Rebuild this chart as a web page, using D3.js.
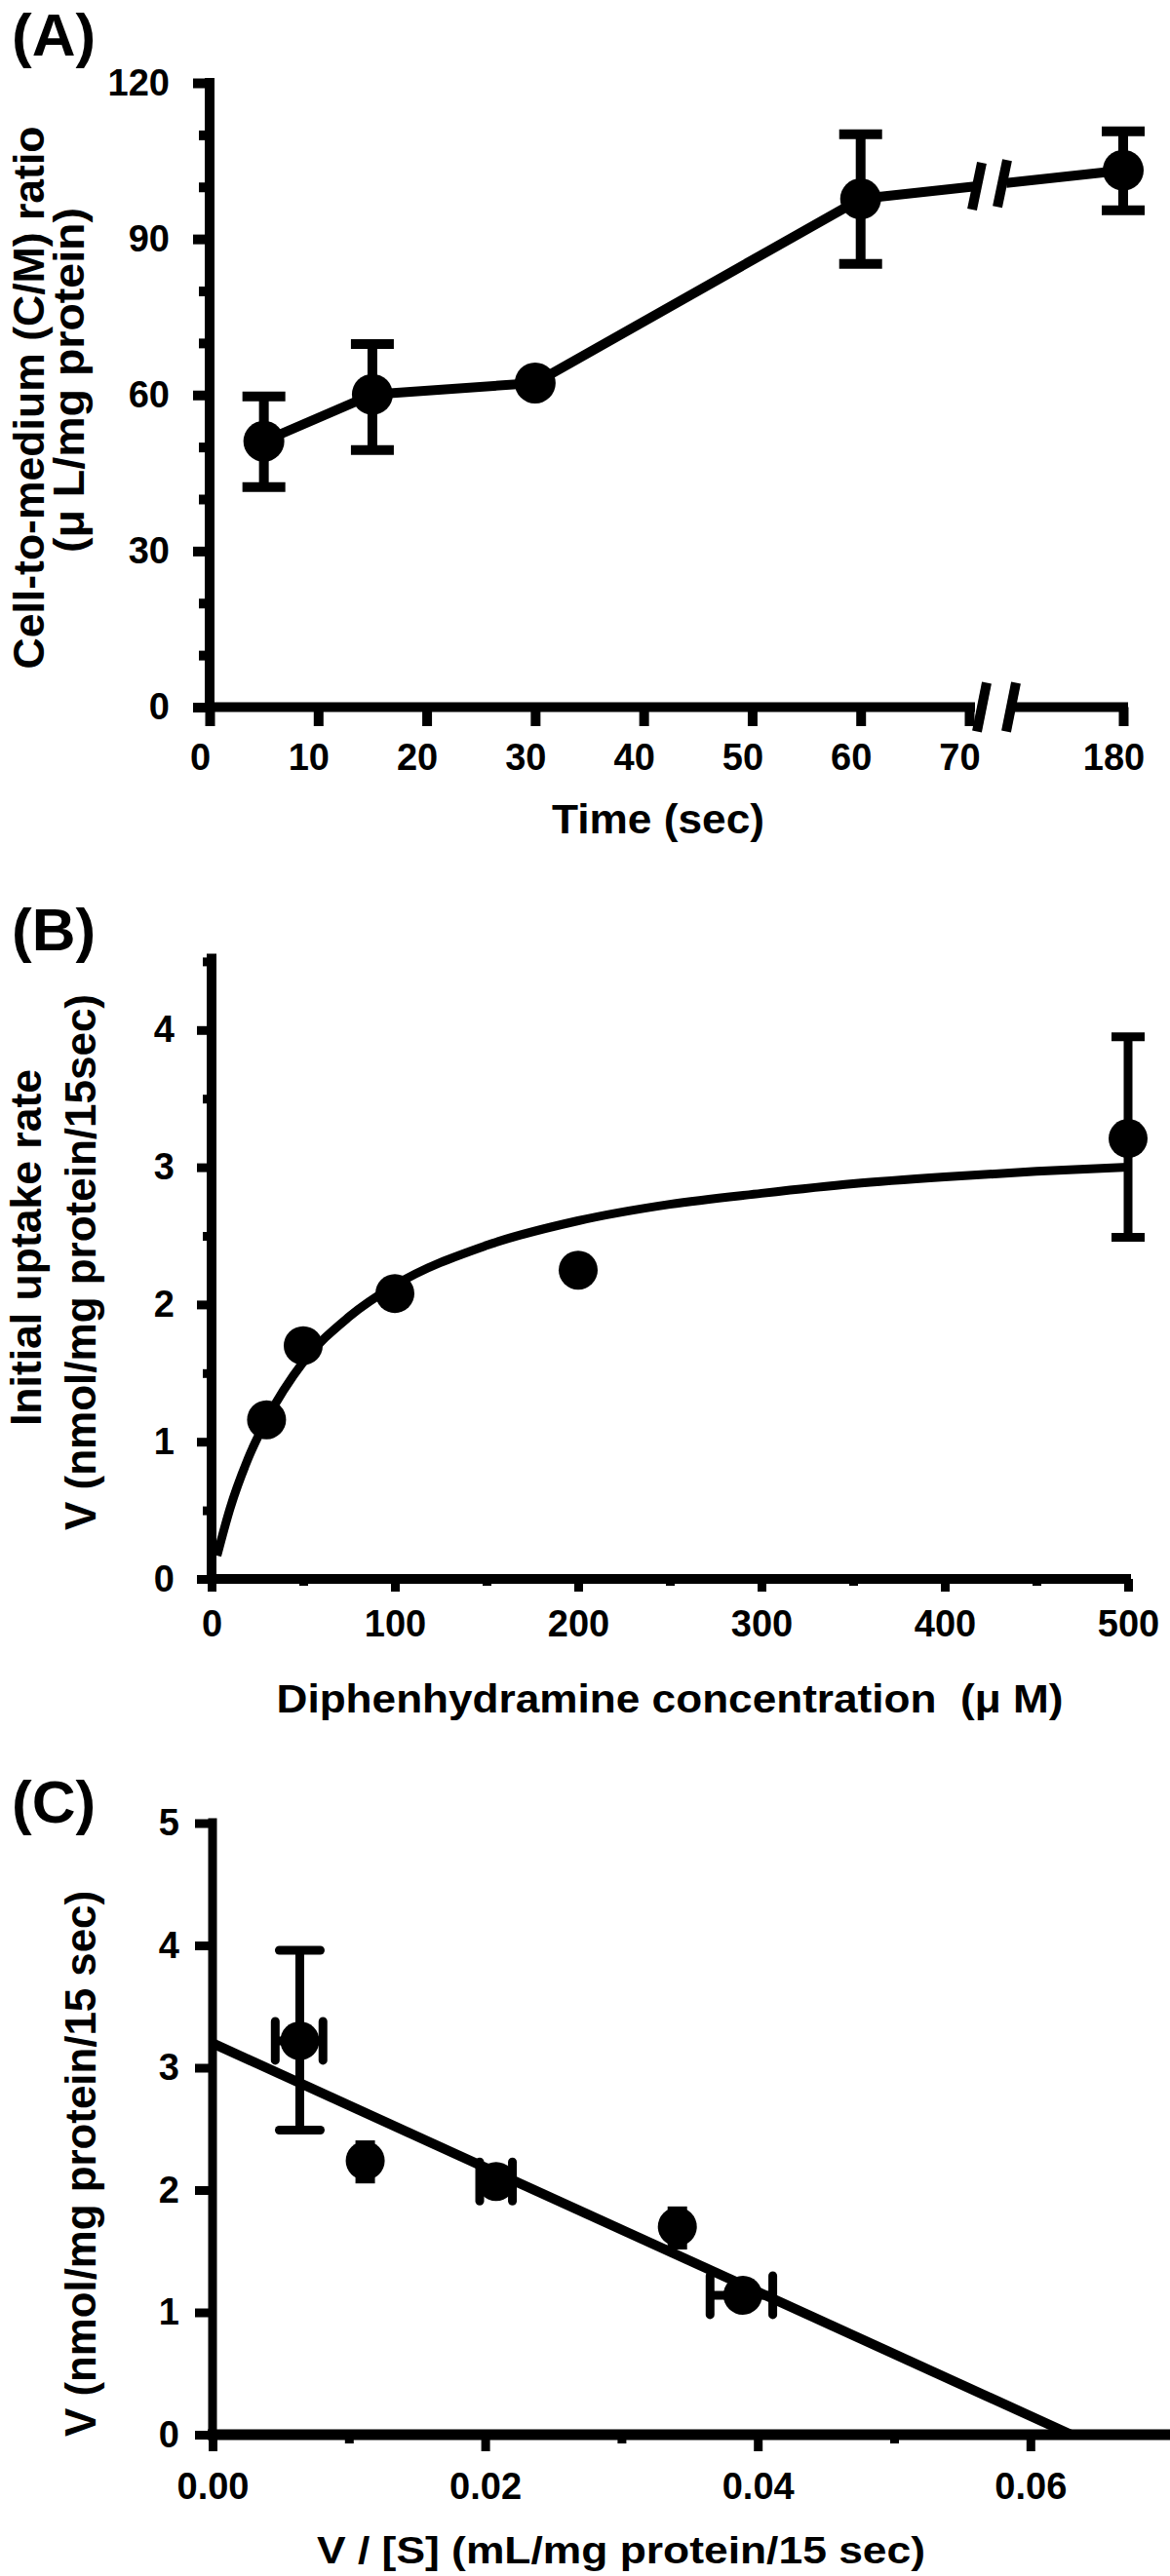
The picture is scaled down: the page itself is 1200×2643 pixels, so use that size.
<!DOCTYPE html>
<html><head><meta charset="utf-8">
<script src="https://cdn.jsdelivr.net/npm/d3@7"></script>
<style>
html,body{margin:0;padding:0;background:#fff;}
svg{display:block;}
text{white-space:pre;}
</style></head><body>
<svg id="fig" width="1200" height="2643"></svg>
<script>
// ---------- Panel A data ----------
const timeSec = [5, 15, 30, 60, 180];
const cmRatio = [51.1, 60.1, 62.3, 97.7, 103.2];
const cmErrLow = [42.3, 49.4, null, 85.2, 95.5];
const cmErrHigh = [59.7, 69.8, null, 110.1, 110.7];
const timeTicks = [0, 10, 20, 30, 40, 50, 60, 70, 180];
const ratioTicks = [0, 30, 60, 90, 120];
const ratioMinorTicks = [10, 20, 40, 50, 70, 80, 100, 110];

// ---------- Panel B data ----------
const concUM = [30, 50, 100, 200, 500];
const uptakeV = [1.16, 1.70, 2.08, 2.25, 3.21];
const uptakeErrLow = [null, null, null, null, 2.49];
const uptakeErrHigh = [null, null, null, null, 3.95];
const fitConc = [3, 10, 20, 30, 50, 75, 100, 150, 200, 250, 300, 350, 400, 450, 500];
const fitV = [0.17, 0.51, 0.88, 1.16, 1.58, 1.91, 2.14, 2.43, 2.61, 2.73, 2.81, 2.88, 2.93, 2.97, 3.00];
const concTicks = [0, 100, 200, 300, 400, 500];
const concMinorTicks = [50, 150, 250, 350, 450];
const rateTicks = [0, 1, 2, 3, 4];
const rateMinorTicks = [0.5, 1.5, 2.5, 3.5, 4.5];

// ---------- Panel C data ----------
const vOverS = [0.0064, 0.0112, 0.0208, 0.0341, 0.0389];
const vScat = [3.22, 2.24, 2.07, 1.70, 1.14];
const vOverSErrLow = [0.0046, null, 0.0196, null, 0.0365];
const vOverSErrHigh = [0.0081, null, 0.0220, null, 0.0411];
const vScatErrLow = [2.49, 2.09, null, 1.55, null];
const vScatErrHigh = [3.96, 2.37, null, 1.83, null];
const regX = [0, 0.063];
const regY = [3.2, 0];
const scatYTicks = [0, 1, 2, 3, 4, 5];
const scatXTicks = [0, 0.02, 0.04, 0.06];
const scatXMinorTicks = [0.01, 0.03, 0.05];

// ---------- drawing ----------
const FONT = '"Liberation Sans", Arial, Helvetica, sans-serif';
const INK = "#000";
const svg = d3.select("#fig");
svg.append("rect").attr("width", 1200).attr("height", 2643).attr("fill", "#fff");

function styleAxis(g, tickW, labelDx) {
  g.select(".domain").remove();
  g.attr("font-size", null).attr("font-family", null);
  g.selectAll(".tick line").attr("stroke", INK).attr("stroke-width", tickW);
  g.selectAll(".tick text")
    .attr("font-family", FONT).attr("font-weight", "bold")
    .attr("font-size", 38).attr("fill", INK);
  if (labelDx) g.selectAll(".tick text").attr("x", labelDx);
}
function line(g, x1, y1, x2, y2, w, cap) {
  g.append("line").attr("x1", x1).attr("y1", y1).attr("x2", x2).attr("y2", y2)
    .attr("stroke", INK).attr("stroke-width", w).attr("stroke-linecap", cap || "butt");
}
function text(g, str, x, y, size, opts) {
  const t = g.append("text").attr("x", x).attr("y", y)
    .attr("font-family", FONT).attr("font-weight", "bold").attr("font-size", size)
    .attr("fill", INK).text(str);
  if (opts && opts.anchor) t.attr("text-anchor", opts.anchor);
  if (opts && opts.len) t.attr("textLength", opts.len).attr("lengthAdjust", "spacingAndGlyphs");
  return t;
}
function vtext(g, str, cx, cy, size, len) {
  g.append("text").attr("transform", `translate(${cx},${cy}) rotate(-90)`)
    .attr("text-anchor", "middle")
    .attr("font-family", FONT).attr("font-weight", "bold").attr("font-size", size)
    .attr("fill", INK).attr("textLength", len).attr("lengthAdjust", "spacingAndGlyphs")
    .text(str);
}

// ===== Panel A =====
{
  const g = svg.append("g");
  const xA = d3.scaleLinear().domain([0, 70, 180]).range([215, 994, 1152]);
  const yA = d3.scaleLinear().domain([0, 120]).range([725.5, 85]);
  const x0 = xA(0), y0 = yA(0);

  g.append("g").attr("transform", `translate(${x0},0)`)
    .call(d3.axisLeft(yA).tickValues(ratioMinorTicks).tickSize(11).tickFormat(""))
    .call(a => styleAxis(a, 10));
  g.append("g").attr("transform", `translate(${x0},0)`)
    .call(d3.axisLeft(yA).tickValues(ratioTicks).tickSize(17).tickPadding(24))
    .call(a => styleAxis(a, 10));
  g.append("g").attr("transform", `translate(0,${y0})`)
    .call(d3.axisBottom(xA).tickValues(timeTicks).tickSize(19.5).tickPadding(18))
    .call(a => styleAxis(a, 10, -10));

  // axis lines with break
  const xb = xA(70);
  line(g, x0, yA(120) - 5, x0, y0 + 5, 10);
  line(g, x0 - 5, y0, xb + 6, y0, 10);
  line(g, xb + 44, y0, xA(180) + 5, y0, 10);
  line(g, xb + 8, y0 + 25, xb + 18, y0 - 25, 10);
  line(g, xb + 38, y0 + 25, xb + 48, y0 - 25, 10);

  // error bars
  const capA = 44;
  timeSec.forEach((t, i) => {
    if (cmErrLow[i] == null) return;
    const x = xA(t);
    line(g, x, yA(cmErrLow[i]), x, yA(cmErrHigh[i]), 10);
    line(g, x - capA / 2, yA(cmErrLow[i]), x + capA / 2, yA(cmErrLow[i]), 10);
    line(g, x - capA / 2, yA(cmErrHigh[i]), x + capA / 2, yA(cmErrHigh[i]), 10);
  });

  // data line with break
  const n = timeSec.length;
  const pA = timeSec.map((t, i) => [xA(t), yA(cmRatio[i])]);
  const pPrev = pA[n - 2], pLast = pA[n - 1];
  const yAt = x => pPrev[1] + (pLast[1] - pPrev[1]) * (x - pPrev[0]) / (pLast[0] - pPrev[0]);
  const bx1 = xb + 6, bx2 = xb + 38;
  const seg1 = pA.slice(0, n - 1).concat([[bx1, yAt(bx1)]]);
  const seg2 = [[bx2, yAt(bx2)], pLast];
  const lg = d3.line();
  g.append("path").attr("d", lg(seg1)).attr("fill", "none").attr("stroke", INK)
    .attr("stroke-width", 10).attr("stroke-linejoin", "round");
  g.append("path").attr("d", lg(seg2)).attr("fill", "none").attr("stroke", INK)
    .attr("stroke-width", 10);
  [xb + 8, xb + 34].forEach(cx => {
    const cy = yAt(cx);
    line(g, cx - 5, cy + 24, cx + 5, cy - 24, 10);
  });

  g.selectAll("circle.a").data(timeSec).enter().append("circle")
    .attr("cx", d => xA(d)).attr("cy", (d, i) => yA(cmRatio[i])).attr("r", 21).attr("fill", INK);

  text(g, "(A)", 12, 57, 62);
  vtext(g, "Cell-to-medium (C/M) ratio", 45, 408, 44, 557);
  vtext(g, "(\u03bc L/mg protein)", 86, 390, 44, 354);
  text(g, "Time (sec)", 675, 855, 42, { anchor: "middle", len: 218 });
}

// ===== Panel B =====
{
  const g = svg.append("g");
  const xB = d3.scaleLinear().domain([0, 500]).range([217, 1157]);
  const yB = d3.scaleLinear().domain([0, 4.5]).range([1620, 1620 - 4.5 * 140.8]);
  const x0 = xB(0), y0 = yB(0);

  g.append("g").attr("transform", `translate(${x0},0)`)
    .call(d3.axisLeft(yB).tickValues(rateMinorTicks).tickSize(9).tickFormat(""))
    .call(a => styleAxis(a, 9));
  g.append("g").attr("transform", `translate(${x0},0)`)
    .call(d3.axisLeft(yB).tickValues(rateTicks).tickSize(15).tickPadding(23).tickFormat(d3.format("d")))
    .call(a => styleAxis(a, 9));
  g.append("g").attr("transform", `translate(0,${y0})`)
    .call(d3.axisBottom(xB).tickValues(concMinorTicks).tickSize(7).tickFormat(""))
    .call(a => styleAxis(a, 9));
  g.append("g").attr("transform", `translate(0,${y0})`)
    .call(d3.axisBottom(xB).tickValues(concTicks).tickSize(13).tickPadding(19).tickFormat(d3.format("d")))
    .call(a => styleAxis(a, 9));

  line(g, x0, yB(4.5) - 8, x0, y0 + 5, 10);
  line(g, x0 - 5, y0, xB(500) + 3, y0, 10);

  const curve = d3.line().x((d, i) => xB(fitConc[i])).y((d, i) => yB(fitV[i])).curve(d3.curveMonotoneX);
  g.append("path").attr("d", curve(fitConc)).attr("fill", "none").attr("stroke", INK).attr("stroke-width", 9);

  const capB = 34;
  concUM.forEach((c, i) => {
    if (uptakeErrLow[i] == null) return;
    const x = xB(c);
    line(g, x, yB(uptakeErrLow[i]), x, yB(uptakeErrHigh[i]), 9);
    line(g, x - capB / 2, yB(uptakeErrLow[i]), x + capB / 2, yB(uptakeErrLow[i]), 9);
    line(g, x - capB / 2, yB(uptakeErrHigh[i]), x + capB / 2, yB(uptakeErrHigh[i]), 9);
  });

  g.selectAll("circle.b").data(concUM).enter().append("circle")
    .attr("cx", d => xB(d)).attr("cy", (d, i) => yB(uptakeV[i])).attr("r", 20).attr("fill", INK);

  text(g, "(B)", 12, 975, 62);
  vtext(g, "Initial uptake rate", 42, 1280, 44, 366);
  vtext(g, "V (nmol/mg protein/15sec)", 98, 1295, 44, 550);
  text(g, "Diphenhydramine concentration  (\u03bc M)", 687, 1757, 40, { anchor: "middle", len: 807 });
}

// ===== Panel C =====
{
  const g = svg.append("g");
  const xC = d3.scaleLinear().domain([0, 0.07]).range([218, 1196.6]);
  const yC = d3.scaleLinear().domain([0, 5]).range([2498, 1870.5]);
  const x0 = xC(0), y0 = yC(0);

  g.append("g").attr("transform", `translate(${x0},0)`)
    .call(d3.axisLeft(yC).tickValues(scatYTicks).tickSize(18).tickPadding(16).tickFormat(d3.format("d")))
    .call(a => styleAxis(a, 9));
  g.append("g").attr("transform", `translate(0,${y0})`)
    .call(d3.axisBottom(xC).tickValues(scatXMinorTicks).tickSize(9).tickFormat(""))
    .call(a => styleAxis(a, 9));
  g.append("g").attr("transform", `translate(0,${y0})`)
    .call(d3.axisBottom(xC).tickValues(scatXTicks).tickSize(17).tickPadding(22).tickFormat(d3.format(".2f")))
    .call(a => styleAxis(a, 9));

  line(g, x0, yC(5) - 5, x0, y0, 9);
  line(g, x0 - 5, y0, 1200, y0, 11);

  g.append("path").attr("d", d3.line()(regX.map((x, i) => [xC(x), yC(regY[i])])))
    .attr("fill", "none").attr("stroke", INK).attr("stroke-width", 10);

  const capC = 42, capSmall = 20, capH = 40;
  vOverS.forEach((xv, i) => {
    const x = xC(xv), y = yC(vScat[i]);
    if (vScatErrLow[i] != null) {
      const cw = (vScatErrHigh[i] - vScatErrLow[i]) > 1 ? capC : capSmall;
      line(g, x, yC(vScatErrLow[i]), x, yC(vScatErrHigh[i]), 9);
      line(g, x - cw / 2, yC(vScatErrLow[i]), x + cw / 2, yC(vScatErrLow[i]), 9, cw === capC ? "round" : "butt");
      line(g, x - cw / 2, yC(vScatErrHigh[i]), x + cw / 2, yC(vScatErrHigh[i]), 9, cw === capC ? "round" : "butt");
    }
    if (vOverSErrLow[i] != null) {
      line(g, xC(vOverSErrLow[i]), y, xC(vOverSErrHigh[i]), y, 9);
      line(g, xC(vOverSErrLow[i]), y - capH / 2, xC(vOverSErrLow[i]), y + capH / 2, 9, "round");
      line(g, xC(vOverSErrHigh[i]), y - capH / 2, xC(vOverSErrHigh[i]), y + capH / 2, 9, "round");
    }
  });

  g.selectAll("circle.c").data(vOverS).enter().append("circle")
    .attr("cx", d => xC(d)).attr("cy", (d, i) => yC(vScat[i])).attr("r", 20).attr("fill", INK);

  text(g, "(C)", 12, 1870, 62);
  vtext(g, "V (nmol/mg protein/15 sec)", 98, 2220, 44, 560);
  text(g, "V / [S] (mL/mg protein/15 sec)", 637, 2630, 38, { anchor: "middle", len: 624 });
}
</script>
</body></html>
